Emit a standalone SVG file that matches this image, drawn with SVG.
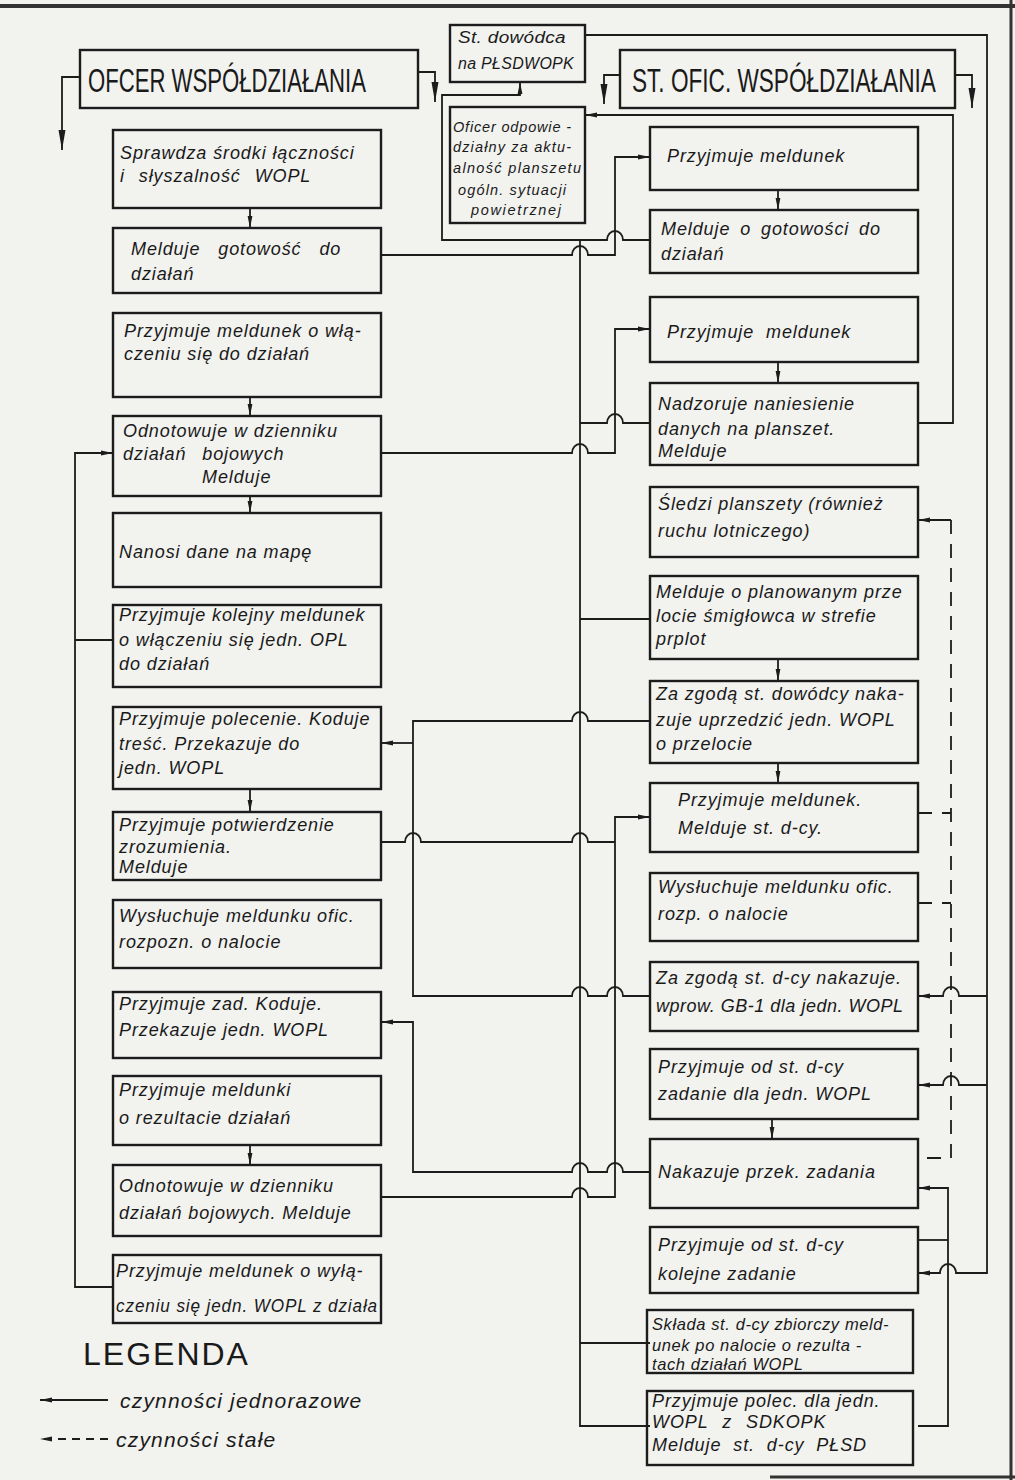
<svg xmlns="http://www.w3.org/2000/svg" width="1015" height="1480" viewBox="0 0 1015 1480">
<defs>
<style>
.bg{fill:#f2f2ef}
.box{fill:none;stroke:#1c1c1c;stroke-width:2.4}
.ln{fill:none;stroke:#1c1c1c;stroke-width:1.8}
.dash{stroke-dasharray:14 10}
.frame{stroke:#333;fill:none}
.t{font-family:"Liberation Sans",Arial,sans-serif;font-style:italic;font-size:18px;fill:#1a1a1a;letter-spacing:0.9px}
.s{font-size:16.5px;letter-spacing:0.6px}
.xs{font-size:14.5px;letter-spacing:0}
.sd{font-size:16px;letter-spacing:0.3px}
.h{font-family:"Liberation Sans",Arial,sans-serif;font-size:33px;fill:#1a1a1a}
.lg{font-family:"Liberation Sans",Arial,sans-serif;font-size:32px;fill:#1a1a1a;letter-spacing:2px}
.lt{font-size:21px;letter-spacing:1.2px}
</style>
<marker id="a" viewBox="0 0 12 6" refX="12" refY="3" markerWidth="12" markerHeight="6" markerUnits="userSpaceOnUse" orient="auto">
<path d="M0,0.6 L12,3 L0,5.4 z" fill="#1c1c1c"/>
</marker>
<marker id="ab" viewBox="0 0 20 8" refX="20" refY="4" markerWidth="20" markerHeight="8" markerUnits="userSpaceOnUse" orient="auto">
<path d="M0,0.5 L20,4 L0,7.5 z" fill="#1c1c1c"/>
</marker>
</defs>
<rect class="bg" x="0" y="0" width="1015" height="1480"/>
<g id="frame">
<line class="frame" x1="0" y1="6" x2="1015" y2="6" stroke-width="4"/>
<line class="frame" x1="1011" y1="0" x2="1011" y2="1480" stroke-width="3"/>
<line class="frame" x1="770" y1="1477" x2="1015" y2="1477" stroke-width="3"/>
</g>

<g id="connectors">
<path class="ln" d="M80,77 H62 V150" marker-end="url(#ab)"/>
<path class="ln" d="M418,72 H435 V102" marker-end="url(#ab)"/>
<path class="ln" d="M620,75 H604 V104" marker-end="url(#ab)"/>
<path class="ln" d="M955,75 H972 V108" marker-end="url(#ab)"/>
<path class="ln" d="M650,240 H623 A8,9 0 0 0 607,240 H442 V95 H520 V82" marker-end="url(#a)"/>
<path class="ln" d="M580,240 V1426 H650"/>
<path class="ln" d="M650,423 H623 A8,9 0 0 0 607,423 H580"/>
<path class="ln" d="M580,619 H650"/>
<path class="ln" d="M580,1343 H650"/>
<path class="ln" d="M381,255 H572 A8,9 0 0 1 588,255 H615 V157 H650" marker-end="url(#a)"/>
<path class="ln" d="M381,453 H572 A8,9 0 0 1 588,453 H615 V329 H650" marker-end="url(#a)"/>
<path class="ln" d="M918,423 H953 V115 H585" marker-end="url(#a)"/>
<path class="ln" d="M650,996 H623 A8,9 0 0 0 607,996 H588 A8,9 0 0 0 572,996 H413 V721 H572 A8,9 0 0 1 588,721 H650"/>
<path class="ln" d="M413,743 H381" marker-end="url(#a)"/>
<path class="ln" d="M381,842 H405 A8,9 0 0 1 421,842 H572 A8,9 0 0 1 588,842 H615"/>
<path class="ln" d="M381,1197 H572 A8,9 0 0 1 588,1197 H615 V817 H650" marker-end="url(#a)"/>
<path class="ln" d="M650,1172 H623 A8,9 0 0 0 607,1172 H588 A8,9 0 0 0 572,1172 H413 V1022 H381" marker-end="url(#a)"/>
<path class="ln" d="M113,1287 H75 V453 H113" marker-end="url(#a)"/>
<path class="ln" d="M113,640 H75"/>
<path class="ln" d="M951,520 H918" marker-end="url(#a)"/>
<path class="ln dash" d="M951,520 V1158 H918"/>
<path class="ln dash" d="M918,813 H951"/>
<path class="ln dash" d="M918,903 H951"/>
<path class="ln" d="M585,35 H987 V1273 H956 A8,9 0 0 0 940,1273 H918" marker-end="url(#a)"/>
<path class="ln" d="M987,996 H959 A8,9 0 0 0 943,996 H918" marker-end="url(#a)"/>
<path class="ln" d="M987,1085 H959 A8,9 0 0 0 943,1085 H918" marker-end="url(#a)"/>
<path class="ln" d="M918,1426 H948 V1188 H918" marker-end="url(#a)"/>
<path class="ln" d="M918,1240 H948"/>
<path class="ln" d="M250,208 V228" marker-end="url(#a)"/>
<path class="ln" d="M250,397 V416" marker-end="url(#a)"/>
<path class="ln" d="M250,496 V513" marker-end="url(#a)"/>
<path class="ln" d="M250,789 V812" marker-end="url(#a)"/>
<path class="ln" d="M250,1145 V1165" marker-end="url(#a)"/>
<path class="ln" d="M778,190 V210" marker-end="url(#a)"/>
<path class="ln" d="M778,362 V383" marker-end="url(#a)"/>
<path class="ln" d="M778,659 V681" marker-end="url(#a)"/>
<path class="ln" d="M778,763 V783" marker-end="url(#a)"/>
<path class="ln" d="M772,1118 V1139" marker-end="url(#a)"/>
</g>

<g id="hdr-left"><rect class="box" x="80" y="50" width="338" height="58"/>
<text class="h" transform="translate(88,92) scale(0.72,1)" x="0" y="0" textLength="386" lengthAdjust="spacingAndGlyphs">OFCER WSPÓŁDZIAŁANIA</text></g>
<g id="hdr-right"><rect class="box" x="620" y="50" width="335" height="58"/>
<text class="h" transform="translate(632,92) scale(0.72,1)" x="0" y="0" textLength="422" lengthAdjust="spacingAndGlyphs">ST. OFIC. WSPÓŁDZIAŁANIA</text></g>

<g id="st-dowodca"><rect class="box" x="450" y="25" width="135" height="57"/>
<text class="t sd" x="458" y="43" textLength="108" lengthAdjust="spacingAndGlyphs">St. dowódca</text><text class="t sd" x="458" y="69" textLength="116" lengthAdjust="spacingAndGlyphs">na PŁSDWOPK</text></g>
<g id="oficer"><rect class="box" x="450" y="107" width="135" height="116"/>
<text class="t xs" x="453" y="132" textLength="118">Oficer odpowie -</text>
<text class="t xs" x="453" y="152" textLength="118">działny za aktu-</text>
<text class="t xs" x="453" y="173" textLength="128">alność planszetu</text>
<text class="t xs" x="458" y="195" textLength="108">ogóln. sytuacji</text>
<text class="t xs" x="471" y="215" textLength="90">powietrznej</text></g>

<g id="L1"><rect class="box" x="113" y="130" width="268" height="78"/>
<text class="t" x="120" y="159">Sprawdza środki łączności</text><text class="t" x="120" y="182" word-spacing="8">i słyszalność WOPL</text></g>
<g id="L2"><rect class="box" x="113" y="228" width="268" height="65"/>
<text class="t" x="131" y="255" word-spacing="12">Melduje gotowość do</text><text class="t" x="131" y="280">działań</text></g>
<g id="L3"><rect class="box" x="113" y="313" width="268" height="84"/>
<text class="t" x="124" y="337">Przyjmuje meldunek o włą-</text><text class="t" x="124" y="360">czeniu się do działań</text></g>
<g id="L4"><rect class="box" x="113" y="416" width="268" height="80"/>
<text class="t" x="123" y="437">Odnotowuje w dzienniku</text><text class="t" x="123" y="460" word-spacing="10">działań bojowych</text><text class="t" x="202" y="483">Melduje</text></g>
<g id="L5"><rect class="box" x="113" y="513" width="268" height="74"/>
<text class="t" x="119" y="558">Nanosi dane na mapę</text></g>
<g id="L6"><rect class="box" x="113" y="605" width="268" height="82"/>
<text class="t" x="119" y="621">Przyjmuje kolejny meldunek</text><text class="t" x="119" y="646">o włączeniu się jedn. OPL</text><text class="t" x="119" y="670">do działań</text></g>
<g id="L7"><rect class="box" x="113" y="707" width="268" height="82"/>
<text class="t" x="119" y="725">Przyjmuje polecenie. Koduje</text><text class="t" x="119" y="750">treść. Przekazuje do</text><text class="t" x="119" y="774">jedn. WOPL</text></g>
<g id="L8"><rect class="box" x="113" y="812" width="268" height="68"/>
<text class="t" x="119" y="831">Przyjmuje potwierdzenie</text><text class="t" x="119" y="853">zrozumienia.</text><text class="t" x="119" y="873">Melduje</text></g>
<g id="L9"><rect class="box" x="113" y="900" width="268" height="68"/>
<text class="t" x="119" y="922">Wysłuchuje meldunku ofic.</text><text class="t" x="119" y="948">rozpozn. o nalocie</text></g>
<g id="L10"><rect class="box" x="113" y="992" width="268" height="66"/>
<text class="t" x="119" y="1010">Przyjmuje zad. Koduje.</text><text class="t" x="119" y="1036">Przekazuje jedn. WOPL</text></g>
<g id="L11"><rect class="box" x="113" y="1076" width="268" height="69"/>
<text class="t" x="119" y="1096">Przyjmuje meldunki</text><text class="t" x="119" y="1124">o rezultacie działań</text></g>
<g id="L12"><rect class="box" x="113" y="1165" width="268" height="71"/>
<text class="t" x="119" y="1192">Odnotowuje w dzienniku</text><text class="t" x="119" y="1219">działań bojowych. Melduje</text></g>
<g id="L13"><rect class="box" x="113" y="1255" width="268" height="68"/>
<text class="t" x="116" y="1277">Przyjmuje meldunek o wyłą-</text><text class="t" x="116" y="1312" textLength="262" lengthAdjust="spacingAndGlyphs">czeniu się jedn. WOPL z działa</text></g>

<g id="R1"><rect class="box" x="650" y="127" width="268" height="63"/>
<text class="t" x="667" y="162">Przyjmuje meldunek</text></g>
<g id="R2"><rect class="box" x="650" y="210" width="268" height="63"/>
<text class="t" x="661" y="235" word-spacing="4">Melduje o gotowości do</text><text class="t" x="661" y="260">działań</text></g>
<g id="R3"><rect class="box" x="650" y="297" width="268" height="65"/>
<text class="t" x="667" y="338" word-spacing="6">Przyjmuje meldunek</text></g>
<g id="R4"><rect class="box" x="650" y="383" width="268" height="82"/>
<text class="t" x="658" y="410">Nadzoruje naniesienie</text><text class="t" x="658" y="435">danych na planszet.</text><text class="t" x="658" y="457">Melduje</text></g>
<g id="R5"><rect class="box" x="650" y="487" width="268" height="70"/>
<text class="t" x="658" y="510">Śledzi planszety (również</text><text class="t" x="658" y="537">ruchu lotniczego)</text></g>
<g id="R6"><rect class="box" x="650" y="576" width="268" height="83"/>
<text class="t" x="656" y="598">Melduje o planowanym prze</text><text class="t" x="656" y="622">locie śmigłowca w strefie</text><text class="t" x="656" y="645">prplot</text></g>
<g id="R7"><rect class="box" x="650" y="681" width="268" height="82"/>
<text class="t" x="656" y="700">Za zgodą st. dowódcy naka-</text><text class="t" x="656" y="726">zuje uprzedzić jedn. WOPL</text><text class="t" x="656" y="750">o przelocie</text></g>
<g id="R8"><rect class="box" x="650" y="783" width="268" height="69"/>
<text class="t" x="678" y="806">Przyjmuje meldunek.</text><text class="t" x="678" y="834">Melduje st. d-cy.</text></g>
<g id="R9"><rect class="box" x="650" y="873" width="268" height="68"/>
<text class="t" x="658" y="893">Wysłuchuje meldunku ofic.</text><text class="t" x="658" y="920">rozp. o nalocie</text></g>
<g id="R10"><rect class="box" x="650" y="962" width="268" height="69"/>
<text class="t" x="656" y="984" textLength="246">Za zgodą st. d-cy nakazuje.</text><text class="t" x="656" y="1012" textLength="248">wprow. GB-1 dla jedn. WOPL</text></g>
<g id="R11"><rect class="box" x="650" y="1049" width="268" height="70"/>
<text class="t" x="658" y="1073">Przyjmuje od st. d-cy</text><text class="t" x="658" y="1100">zadanie dla jedn. WOPL</text></g>
<g id="R12"><rect class="box" x="650" y="1139" width="268" height="69"/>
<text class="t" x="658" y="1178">Nakazuje przek. zadania</text></g>
<g id="R13"><rect class="box" x="650" y="1227" width="268" height="66"/>
<text class="t" x="658" y="1251">Przyjmuje od st. d-cy</text><text class="t" x="658" y="1280">kolejne zadanie</text></g>
<g id="R14"><rect class="box" x="647" y="1310" width="266" height="63"/>
<text class="t s" x="652" y="1330">Składa st. d-cy zbiorczy meld-</text><text class="t s" x="652" y="1351">unek po nalocie o rezulta -</text><text class="t s" x="652" y="1370">tach działań WOPL</text></g>
<g id="R15"><rect class="box" x="647" y="1391" width="266" height="74"/>
<text class="t" x="652" y="1407">Przyjmuje polec. dla jedn.</text><text class="t" x="652" y="1428" word-spacing="8">WOPL z SDKOPK</text><text class="t" x="652" y="1451" word-spacing="6">Melduje st. d-cy PŁSD</text></g>

<g id="legend">
<text class="lg" x="83" y="1365">LEGENDA</text>
<path class="ln" d="M108,1400 H40" marker-end="url(#a)"/>
<text class="t lt" x="120" y="1408">czynności jednorazowe</text>
<path class="ln" d="M108,1439 H40" stroke-dasharray="8 6" marker-end="url(#a)"/>
<text class="t lt" x="116" y="1447">czynności stałe</text>
</g>
</svg>
